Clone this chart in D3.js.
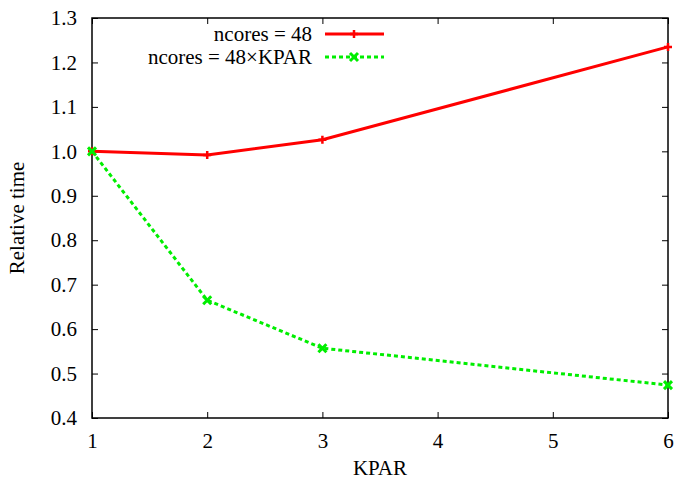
<!DOCTYPE html>
<html>
<head>
<meta charset="utf-8">
<script src="https://cdn.jsdelivr.net/npm/d3@7"></script>
<style>
  body { margin: 0; background: #fff; }
</style>
</head>
<body>
<script>
// data
var kpar = [1, 2, 3, 6];
var fixedCores = [1.0, 0.992, 1.026, 1.235];
var scaledCores = [1.0, 0.665, 0.557, 0.474];
var xTicks = [1, 2, 3, 4, 5, 6];
var yTicks = [0.4, 0.5, 0.6, 0.7, 0.8, 0.9, 1.0, 1.1, 1.2, 1.3];
var seriesNames = ["ncores = 48", "ncores = 48\u00d7KPAR"];

var W = 678, H = 483,
    margin = {top: 18, right: 10, bottom: 65, left: 92},
    width = W - margin.left - margin.right,
    height = H - margin.top - margin.bottom;

var x = d3.scaleLinear().domain([1, 6]).range([0, width]);
var y = d3.scaleLinear().domain([0.4, 1.3]).range([height, 0]);

var svg = d3.select("body").append("svg")
    .attr("width", W)
    .attr("height", H)
  .append("g")
    .attr("transform", "translate(" + margin.left + "," + margin.top + ")");

var tick = 6;

// axes, gnuplot-style inward ticks on all four sides
function styleAxis(g) {
  g.attr("font-family", "Liberation Serif").attr("font-size", 21);
  g.select(".domain").remove();
  g.selectAll("line").attr("stroke", "#000").attr("stroke-width", 1);
}

svg.append("g")
    .attr("transform", "translate(0," + height + ")")
    .call(d3.axisBottom(x).tickValues(xTicks).tickFormat(d3.format("d")).tickSizeInner(-tick).tickPadding(15))
    .call(styleAxis);

svg.append("g")
    .call(d3.axisTop(x).tickValues(xTicks).tickSizeInner(-tick).tickFormat(""))
    .call(styleAxis);

svg.append("g")
    .call(d3.axisLeft(y).tickValues(yTicks).tickFormat(d3.format(".1f")).tickSizeInner(-tick).tickPadding(15))
    .call(styleAxis);

svg.append("g")
    .attr("transform", "translate(" + width + ",0)")
    .call(d3.axisRight(y).tickValues(yTicks).tickSizeInner(-tick).tickFormat(""))
    .call(styleAxis);

svg.append("rect")
    .attr("width", width)
    .attr("height", height)
    .attr("fill", "none")
    .attr("stroke", "#000")
    .attr("stroke-width", 1.5);

// axis labels
svg.append("text")
    .attr("x", width / 2)
    .attr("y", height + 57)
    .attr("text-anchor", "middle")
    .attr("font-family", "Liberation Serif")
    .attr("font-size", 21)
    .text("KPAR");

svg.append("text")
    .attr("transform", "translate(" + (-68) + "," + (height / 2) + ") rotate(-90)")
    .attr("text-anchor", "middle")
    .attr("font-family", "Liberation Serif")
    .attr("font-size", 21)
    .text("Relative time");

// lines
var line = d3.line()
    .x(function(d) { return x(d[0]); })
    .y(function(d) { return y(d[1]); });

var redPts = kpar.map(function(k, i) { return [k, fixedCores[i]]; });
var greenPts = kpar.map(function(k, i) { return [k, scaledCores[i]]; });

svg.append("path")
    .datum(greenPts)
    .attr("d", line)
    .attr("fill", "none")
    .attr("stroke", "#00ee00")
    .attr("stroke-width", 3)
    .attr("stroke-dasharray", "4,3");

svg.append("path")
    .datum(redPts)
    .attr("d", line)
    .attr("fill", "none")
    .attr("stroke", "#ff0000")
    .attr("stroke-width", 3);

// markers
function plus(g, cx, cy, col) {
  g.append("path")
    .attr("d", "M" + (cx - 4) + "," + cy + "h8M" + cx + "," + (cy - 4) + "v8")
    .attr("stroke", col).attr("stroke-width", 2.5);
}
function cross(g, cx, cy, col) {
  g.append("path")
    .attr("d", "M" + (cx - 4) + "," + (cy - 4) + "l8,8M" + (cx - 4) + "," + (cy + 4) + "l8,-8")
    .attr("stroke", col).attr("stroke-width", 3);
}

redPts.forEach(function(d) { plus(svg, x(d[0]), y(d[1]), "#ff0000"); });
greenPts.forEach(function(d) { cross(svg, x(d[0]), y(d[1]), "#00ee00"); });

// legend
var legend = svg.append("g")
    .attr("font-family", "Liberation Serif")
    .attr("font-size", 21);
var legY = [16, 39];
legend.selectAll("text")
    .data(seriesNames)
  .enter().append("text")
    .attr("x", 220)
    .attr("y", function(d, i) { return legY[i]; })
    .attr("dy", "0.35em")
    .attr("text-anchor", "end")
    .text(function(d) { return d; });

legend.append("line")
    .attr("x1", 233).attr("x2", 292)
    .attr("y1", legY[0]).attr("y2", legY[0])
    .attr("stroke", "#ff0000").attr("stroke-width", 3);
plus(legend, 262, legY[0], "#ff0000");

legend.append("line")
    .attr("x1", 233).attr("x2", 292)
    .attr("y1", legY[1]).attr("y2", legY[1])
    .attr("stroke", "#00ee00").attr("stroke-width", 3)
    .attr("stroke-dasharray", "4,3");
cross(legend, 262, legY[1], "#00ee00");
</script>
</body>
</html>
